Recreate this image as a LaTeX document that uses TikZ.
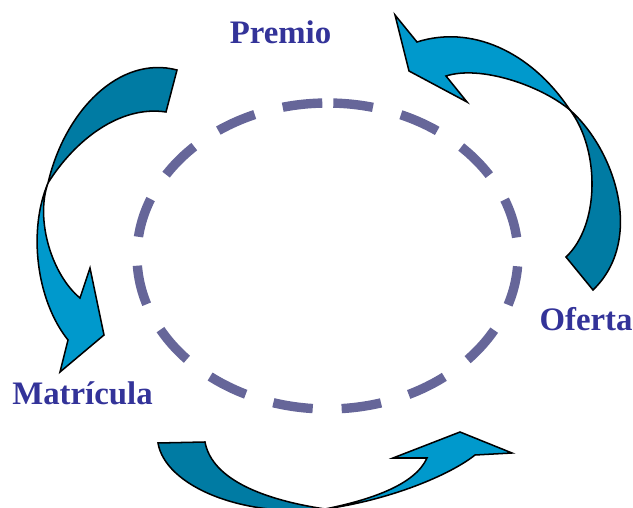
\documentclass[tikz,border=0pt]{standalone}
\definecolor{ArrowLight}{HTML}{0099CC}
\definecolor{ArrowDark}{HTML}{007BA3}
\definecolor{RingGray}{HTML}{666699}
\definecolor{LabelBlue}{HTML}{333399}
\usepackage{fontspec}
\setmainfont{Liberation Serif}
\usepackage{tikz}
\tikzset{
  cyclelabel/.style={font=\bfseries\fontsize{28}{30}\selectfont,
                     text=LabelBlue,inner sep=0pt,anchor=base},
  headpart/.style={fill=ArrowLight,draw=black,line width=1.3pt},
  tailpart/.style={fill=ArrowDark,draw=black,line width=1.3pt},
  ringline/.style={draw=RingGray,line width=8pt,
                   dash pattern=on 34pt off 24.7pt,dash phase=53.7pt}
}

\begin{document}
\begin{tikzpicture}[x=0.03cm,y=-0.03cm]
      \clip (0,0) rectangle (633,508);
      \draw[ringline] (327.5,103) arc[start angle=-90,end angle=270,
                                      x radius=190.5,y radius=153];
      \filldraw[tailpart] (570,110) .. controls (615,150) and (645,240) .. (593,290)
        -- (566,257) .. controls (600,225) and (600,150) .. (570,110) -- cycle;
      \filldraw[headpart] (570,110) .. controls (530,50) and (470,25) .. (417,42)
        -- (395,15) -- (409,71) -- (467,102)
        -- (446,76) .. controls (480,65) and (540,85) .. (570,110) -- cycle;
      \filldraw[tailpart] (177,70) .. controls (120,55) and (65,110) .. (48,183)
        .. controls (75,140) and (120,105) .. (166,112) -- cycle;
      \filldraw[headpart] (48,183) .. controls (28,230) and (36,300) .. (68,340)
        -- (60,372) -- (104,335) -- (90,268)
        -- (80,298) .. controls (52,275) and (35,220) .. (48,183) -- cycle;
      \filldraw[tailpart] (158,443) .. controls (165,485) and (240,518) .. (325,509)
        .. controls (265,500) and (212,480) .. (205,442) -- cycle;
      \filldraw[headpart] (325,509) .. controls (390,500) and (450,475) .. (475,455)
        -- (512,453) -- (460,432) -- (393,458)
        -- (427,458) .. controls (415,485) and (370,500) .. (325,509) -- cycle;
      \node[cyclelabel] (premio) at (280.5,44) {Premio};
      \node[cyclelabel] (oferta) at (586,331) {Oferta};
      \node[cyclelabel] (matricula) at (82.5,405) {Matrícula};
    \end{tikzpicture}
\end{document}
